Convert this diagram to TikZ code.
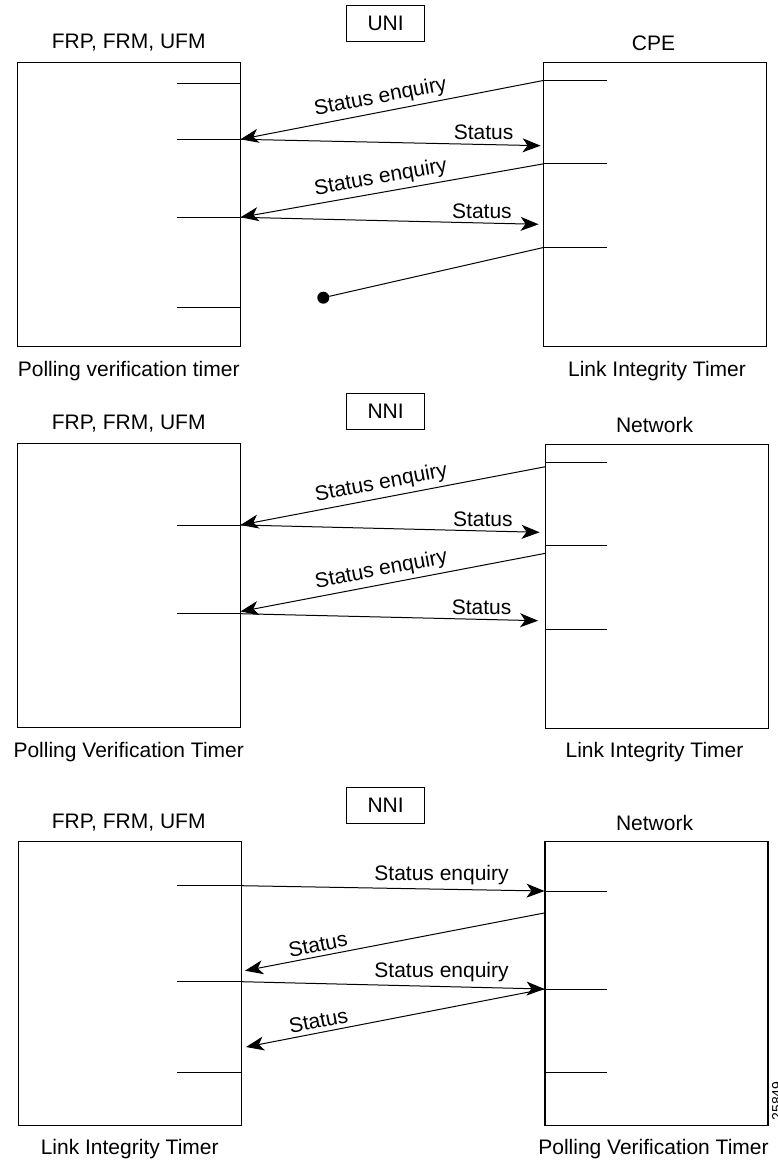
\documentclass[tikz,border=0pt]{standalone}
\usepackage{fontspec}
\setmainfont{Liberation Sans}
\usetikzlibrary{arrows.meta}
\tikzset{
    unit/.style={draw, line width=1.1pt, minimum width=223pt, minimum height=284pt, inner sep=0pt},
    tag/.style={draw, line width=1pt, minimum width=78pt, minimum height=36pt, inner sep=0pt},
    msg/.style={line width=1pt},
    lbl/.style={inner sep=4pt},
    tickline/.style={line width=1pt}
}

\begin{document}
\begin{tikzpicture}[x=1pt,y=-1pt,font=\fontsize{21}{25}\selectfont,>={Stealth[length=18pt,width=14pt,inset=5pt]}]
\useasboundingbox (0,0) rectangle (777,1161);
% UNI
\node[tag] (uni) at (385.6,23.3) {UNI};
\node (frp1) at (128.7,43) {FRP, FRM, UFM};
\node (cpe) at (653.5,43) {CPE};
\node[unit] (sw1) at (128.9,204.2) {};
\node[unit] (cp1) at (655.4,204.2) {};
\node (pvt1) at (128.7,371.5) {Polling verification timer};
\node (lit1) at (657,371.5) {Link Integrity Timer};
\coordinate (la1) at (240.5,83.3);
\coordinate (la2) at (240.5,139.3);
\coordinate (la3) at (240.5,217.3);
\coordinate (la4) at (240.5,307.3);
\coordinate (ra1) at (544.3,80.3);
\coordinate (ra2) at (544.3,163.7);
\coordinate (ra3) at (544.3,247.3);
\coordinate (sa1) at (540.6,145.7);
\coordinate (sa2) at (538.6,224.3);
\draw[tickline] (la1) -- ++(-63.8,0);
\draw[tickline] (la2) -- ++(-63.8,0);
\draw[tickline] (la3) -- ++(-63.8,0);
\draw[tickline] (la4) -- ++(-63.8,0);
\draw[tickline] (ra1) -- ++(62.2,0);
\draw[tickline] (ra2) -- ++(62.2,0);
\draw[tickline] (ra3) -- ++(62.2,0);
\draw[msg,<-] (la2) -- node[lbl,above,sloped,pos=0.47] {Status enquiry} (ra1);
\draw[msg,->] (la2) -- node[lbl,above,pos=0.81] {Status} (sa1);
\draw[msg,<-] (la3) -- node[lbl,above,sloped,pos=0.47] {Status enquiry} (ra2);
\draw[msg,->] (la3) -- node[lbl,above,pos=0.81] {Status} (sa2);
\node[circle,fill,inner sep=0pt,minimum size=12pt] (stop) at (323.3,297.7) {};
\draw[msg] (ra3) -- (stop);
% NNI, network polls
\node[tag] (nni1) at (385.6,411.3) {NNI};
\node (frp2) at (128.7,424) {FRP, FRM, UFM};
\node (net1) at (654.5,424.5) {Network};
\node[unit] (sw2) at (128.9,585.3) {};
\node[unit] (nw2) at (657.3,586.6) {};
\node (pvt2) at (128.7,752) {Polling Verification Timer};
\node (lit2) at (654.5,752) {Link Integrity Timer};
\coordinate (lb1) at (240.5,525);
\coordinate (lb2) at (240.5,613.7);
\coordinate (tb2) at (240.5,611.5);
\coordinate (rb1) at (545.5,462);
\coordinate (rb2) at (545.5,545.7);
\coordinate (rb3) at (545.5,629.3);
\coordinate (qb1) at (545.5,466.7);
\coordinate (qb2) at (545.5,553.3);
\coordinate (sb1) at (539.6,532.3);
\coordinate (sb2) at (538.1,620.7);
\draw[tickline] (lb1) -- ++(-63.8,0);
\draw[tickline] (lb2) -- ++(-63.8,0);
\draw[tickline] (rb1) -- ++(61,0);
\draw[tickline] (rb2) -- ++(61,0);
\draw[tickline] (rb3) -- ++(61,0);
\draw[msg,<-] (lb1) -- node[lbl,above,sloped,pos=0.47] {Status enquiry} (qb1);
\draw[msg,->] (lb1) -- node[lbl,above,pos=0.81] {Status} (sb1);
\draw[msg,<-] (tb2) -- node[lbl,above,sloped,pos=0.47] {Status enquiry} (qb2);
\draw[msg,->] (lb2) -- node[lbl,above,pos=0.81] {Status} (sb2);
% NNI, switch polls
\node[tag] (nni2) at (385.6,805.3) {NNI};
\node (frp3) at (128.7,823) {FRP, FRM, UFM};
\node (net2) at (654.5,823) {Network};
\node[unit] (sw3) at (130.2,983.4) {};
\node[unit] (nw3) at (656.5,983.4) {};
\node (lit3) at (129.7,1149) {Link Integrity Timer};
\node (pvt3) at (653.5,1149) {Polling Verification Timer};
\coordinate (lc1) at (241.7,885.7);
\coordinate (lc2) at (241.7,981.7);
\coordinate (lc3) at (241.7,1072);
\coordinate (rc1) at (544.5,891);
\coordinate (rc2) at (544.5,989);
\coordinate (rc3) at (545.7,1072);
\coordinate (qc1) at (545.7,912.7);
\coordinate (tc1) at (245,970.7);
\coordinate (tc2) at (246,1047);
\draw[tickline] (lc1) -- ++(-64.7,0);
\draw[tickline] (lc2) -- ++(-64.7,0);
\draw[tickline] (lc3) -- ++(-64.7,0);
\draw[tickline] (rc1) -- ++(62.2,0);
\draw[tickline] (rc2) -- ++(62.2,0);
\draw[tickline] (rc3) -- ++(61,0);
\draw[msg,->] (lc1) -- node[lbl,above,pos=0.66] {Status enquiry} (rc1);
\draw[msg,<-] (tc1) -- node[lbl,above,sloped,pos=0.25] {Status} (qc1);
\draw[msg,->] (lc2) -- node[lbl,above,pos=0.66] {Status enquiry} (rc2);
\draw[msg,<-] (tc2) -- node[lbl,above,sloped,pos=0.25] {Status} (rc2);
\node[rotate=90,anchor=north,inner sep=0pt,font=\fontsize{14}{16}\selectfont] (fig) at (772,1101) {25849};
\end{tikzpicture}
\end{document}
